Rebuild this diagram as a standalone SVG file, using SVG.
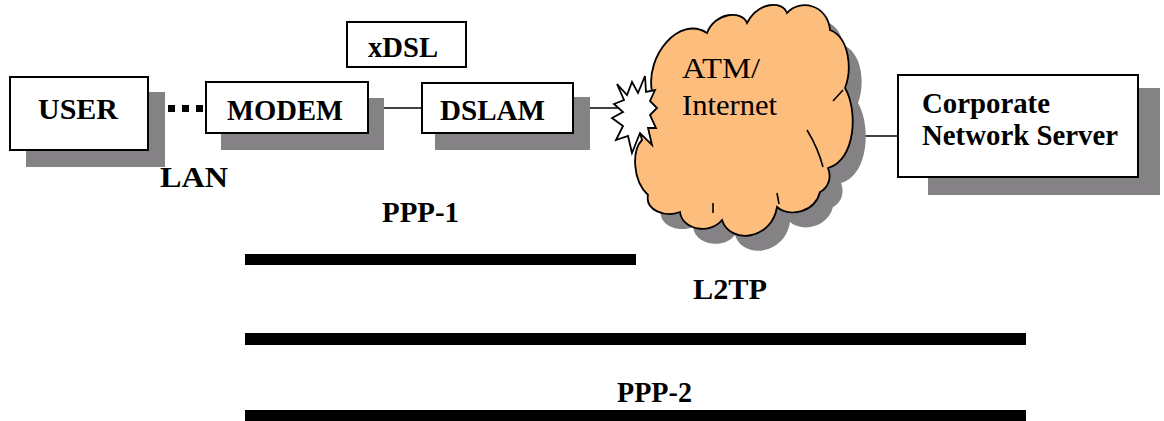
<svg xmlns="http://www.w3.org/2000/svg" width="1164" height="421" viewBox="0 0 1164 421">
<style>
.box{fill:#fff;stroke:#000;stroke-width:2}
.shadow{fill:#858286}
.lbl{font-family:"Liberation Serif","Times New Roman",serif;font-weight:bold;font-size:29px;fill:#000}
.cloudtxt{font-family:"Liberation Serif","Times New Roman",serif;font-weight:normal;font-size:30px;fill:#000}
.wire{stroke:#000;stroke-width:1.6;fill:none}
.bar{fill:#000}
</style>
<defs>
<path id="cloudShape" d="M 652,92 C 645,55 680,15 707,33 C 715,12 742,10 747,23 C 758,2 782,0 787,13 C 800,-2 828,5 830,30 C 850,38 852,70 845,88 C 858,110 856,160 828,168 C 832,178 828,188 820,192 C 815,212 790,218 777,207 C 772,240 730,245 722,220 C 710,235 682,230 680,212 C 665,218 645,210 648,195 C 632,180 632,150 642,140 C 635,120 640,95 652,92 Z"/>
</defs>
<rect width="1164" height="421" fill="#fff"/>

<g id="connectors">
<rect x="148" y="105" width="9" height="7" fill="#000"/>
<rect x="168" y="105" width="7" height="7" fill="#000"/>
<rect x="182" y="105" width="7" height="7" fill="#000"/>
<rect x="196" y="105" width="7" height="7" fill="#000"/>
<line class="wire" x1="367" y1="108" x2="422" y2="108"/>
<line class="wire" x1="558" y1="108" x2="620" y2="108"/>
<line class="wire" x1="850" y1="136" x2="898" y2="136"/>
</g>

<g id="user">
<rect class="shadow" x="26" y="92" width="139" height="75"/>
<rect class="box" x="10" y="77" width="138" height="73"/>
<text class="lbl" x="38" y="119" textLength="80" lengthAdjust="spacingAndGlyphs">USER</text>
</g>

<g id="modem">
<rect class="shadow" x="221" y="98" width="163" height="52"/>
<rect class="box" x="206" y="82" width="162" height="51"/>
<text class="lbl" x="227" y="120" textLength="116" lengthAdjust="spacingAndGlyphs">MODEM</text>
</g>

<g id="xdsl">
<rect class="box" x="347" y="22" width="119" height="45"/>
<text class="lbl" x="368" y="57" font-size="26" textLength="70" lengthAdjust="spacingAndGlyphs">xDSL</text>
</g>

<g id="dslam">
<rect class="shadow" x="435" y="97" width="155" height="53"/>
<rect class="box" x="422" y="83" width="151" height="50"/>
<text class="lbl" x="440" y="120" textLength="105" lengthAdjust="spacingAndGlyphs">DSLAM</text>
</g>

<g id="cloud">
<use href="#cloudShape" transform="translate(13,15)" fill="#858286"/>
<use href="#cloudShape" fill="#FDBD7C" stroke="#000" stroke-width="1.8"/>
<path d="M 807,130 Q 818,148 823,167" class="wire"/>
<path d="M 833,101 L 843,90" class="wire"/>
<path d="M 713,203 L 713,213" class="wire"/>
<path d="M 777,193 L 779,204" class="wire"/>
<text class="cloudtxt" font-family="Liberation Serif, serif" x="682" y="78" textLength="78" lengthAdjust="spacingAndGlyphs">ATM/</text>
<text class="cloudtxt" font-family="Liberation Serif, serif" x="682" y="115" textLength="95" lengthAdjust="spacingAndGlyphs">Internet</text>
</g>

<g id="burst">
<polygon points="617,84 627,95 632,82 638,93 645,76 646,92 655,90 650,101 657,108 650,115 656,128 648,128 652,145 640,133 632,153 628,136 616,140 623,126 612,118 623,112 614,104 624,100" fill="#fff" stroke="#000" stroke-width="1.8" stroke-linejoin="miter"/>
</g>

<g id="server">
<rect class="shadow" x="928" y="88" width="232" height="107"/>
<rect class="box" x="898" y="75" width="240" height="102"/>
<text class="lbl" x="922" y="113" font-size="28" textLength="128" lengthAdjust="spacingAndGlyphs">Corporate</text>
<text class="lbl" x="922" y="145" font-size="28" textLength="196" lengthAdjust="spacingAndGlyphs">Network Server</text>
</g>

<g id="labels">
<text class="lbl" x="160" y="187" font-size="30" textLength="68" lengthAdjust="spacingAndGlyphs">LAN</text>
<text class="lbl" x="382" y="222" textLength="77" lengthAdjust="spacingAndGlyphs">PPP-1</text>
<text class="lbl" x="693" y="299" textLength="74" lengthAdjust="spacingAndGlyphs">L2TP</text>
<text class="lbl" x="617" y="402" textLength="75" lengthAdjust="spacingAndGlyphs">PPP-2</text>
</g>

<g id="bars">
<rect class="bar" x="245" y="254" width="391" height="11"/>
<rect class="bar" x="245" y="333" width="781" height="12"/>
<rect class="bar" x="245" y="410" width="781" height="11"/>
</g>
</svg>
